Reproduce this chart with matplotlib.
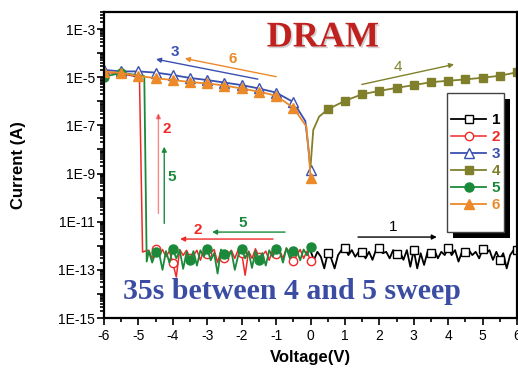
"""
DRAM I-V sweeps (1-6), log current vs voltage
"""

import matplotlib.pyplot as plt
import matplotlib.patheffects as pe
import numpy as np
from matplotlib.patches import Rectangle
from matplotlib.ticker import FixedLocator, FuncFormatter, MultipleLocator

plt.rcParams['font.family'] = ['Liberation Sans', 'DejaVu Sans']

# ---- data (voltage in V, current in A) ----
# sweep 1: 0 -> 6 V, low state, 0.1 V step
v1 = np.linspace(0, 6, 61)
i1 = [6.0e-13, 2.6e-13, 5.6e-13, 3.5e-13, 1.15e-13, 4.9e-13, 3.0e-13, 1.15e-13, 4.1e-13, 6.6e-13,
      8.3e-13, 4.1e-13, 6.6e-13, 3.5e-13, 5.6e-13, 5.4e-13, 3.0e-13, 5.6e-13, 2.6e-13, 6.6e-13,
      7.8e-13, 4.9e-13, 5.6e-13, 3.0e-13, 6.6e-13, 4.4e-13, 5.6e-13, 2.6e-13, 6.6e-13, 1.35e-13,
      6.6e-13, 1.15e-13, 4.9e-13, 1.6e-13, 5.6e-13, 4.9e-13, 6.6e-13, 3.0e-13, 5.6e-13, 4.1e-13,
      8.3e-13, 4.1e-13, 6.6e-13, 2.2e-13, 5.6e-13, 5.6e-13, 6.6e-13, 4.1e-13, 5.6e-13, 3.0e-13,
      7.2e-13, 4.9e-13, 6.6e-13, 2.6e-13, 5.6e-13, 2.6e-13, 4.9e-13, 1.15e-13, 4.1e-13, 6.6e-13,
      6.6e-13]

# sweep 2: 0 -> -6 V, switches on near -4.9 V
v2 = list(np.linspace(0, -4.8, 49)) + [-4.88, -4.97, -5.5, -6.0]
i2 = [2.3e-13, 6.0e-13, 3.0e-13, 7.0e-13, 4.0e-13, 2.3e-13, 5.0e-13, 8.0e-13, 3.0e-13, 6.5e-13,
      4.5e-13, 7.0e-13, 2.5e-13, 6.0e-13, 4.0e-13, 3.5e-13, 7.5e-13, 3.0e-13, 6.0e-13, 6.0e-14,
      5.0e-13, 7.0e-13, 3.0e-13, 6.5e-13, 4.5e-13, 3.0e-13, 6.5e-13, 2.0e-13, 7.0e-13, 5.0e-13,
      4.5e-13, 7.0e-13, 2.5e-13, 6.5e-13, 4.0e-13, 3.0e-13, 6.5e-13, 4.0e-13, 7.0e-13, 5.0e-14,
      1.9e-13, 6.0e-13, 3.5e-13, 7.0e-13, 4.0e-13, 7.0e-13, 3.0e-13, 6.5e-13, 6.0e-13,
      5.5e-13, 1.0e-5, 1.4e-5, 1.6e-5]

# sweep 3: -6 -> 0 V, on state
v3 = [-6.0, -5.5, -5.0, -4.5, -4.0, -3.5, -3.0, -2.5, -2.0, -1.5, -1.0, -0.5, -0.15, -0.06, 0.0]
i3 = [2.0e-5, 1.74e-5, 1.74e-5, 1.55e-5, 1.23e-5, 9.3e-6, 7.6e-6, 6.0e-6, 4.7e-6, 3.4e-6,
      2.3e-6, 9.3e-7, 1.5e-7, 1.1e-8, 1.4e-9]

# sweep 4: 0 -> 6 V, on state
v4 = [0.0, 0.08, 0.25, 0.5, 1.0, 1.5, 2.0, 2.5, 3.0, 3.5, 4.0, 4.5, 5.0, 5.5, 6.0]
i4 = [1.9e-9, 6.5e-8, 2.3e-7, 4.6e-7, 1.05e-6, 1.95e-6, 2.7e-6, 3.6e-6, 4.7e-6, 6.2e-6,
      7.1e-6, 8.1e-6, 9.5e-6, 1.15e-5, 1.6e-5]

# sweep 5: 0 -> -6 V after 35 s, switches on near -4.8 V
v5 = list(np.linspace(0, -4.7, 48)) + [-4.76, -4.83, -5.0, -5.5, -6.0]
i5 = [9.1e-13, 4.0e-13, 7.0e-13, 2.5e-13, 6.5e-13, 6.0e-13, 3.0e-13, 8.0e-13, 2.0e-13, 6.0e-13,
      7.4e-13, 3.5e-13, 6.5e-13, 1.5e-13, 5.0e-13, 2.5e-13, 6.0e-13, 1.2e-13, 5.5e-13, 3.0e-13,
      7.4e-13, 4.0e-13, 1.0e-13, 6.0e-13, 3.0e-13, 4.6e-13, 7.0e-13, 7.0e-14, 5.0e-13, 2.5e-13,
      7.4e-13, 3.5e-13, 6.5e-13, 1.5e-13, 6.0e-13, 2.5e-13, 5.5e-13, 1.1e-13, 6.5e-13, 3.0e-13,
      7.1e-13, 2.0e-13, 6.0e-13, 1.0e-13, 5.0e-13, 5.5e-13, 2.0e-13, 6.0e-13,
      2.2e-13, 1.1e-5, 1.2e-5, 1.5e-5, 1.05e-5]

# sweep 6: -6 -> 0 V, on state
v6 = [-6.0, -5.5, -5.0, -4.5, -4.0, -3.5, -3.0, -2.5, -2.0, -1.5, -1.0, -0.5, -0.12, -0.04, 0.0]
i6 = [1.7e-5, 1.5e-5, 1.12e-5, 9.1e-6, 7.6e-6, 6.3e-6, 5.5e-6, 4.5e-6, 3.4e-6, 2.5e-6,
      1.7e-6, 5.4e-7, 9.0e-8, 5.0e-9, 6.6e-10]

c1, c2, c3 = 'black', '#f02828', '#3a50b0'
c4, c5, c6 = '#80802c', '#1a8a3a', '#ec8a2a'

fig = plt.figure(figsize=(5.18, 3.69), dpi=100)
ax = fig.add_axes([0.2008, 0.1382, 0.7973, 0.8293])

lw = 1.3
ax.plot(v1, i1, color=c1, lw=lw, marker='s', ms=5.5, mfc='white', mec=c1,
        markevery=list(range(5, 61, 5)), label='1')
ax.plot(v2, i2, color=c2, lw=1.1, marker='o', ms=6, mfc='white', mec=c2,
        markevery=list(range(0, 46, 5)), label='2')
ax.plot(v3, i3, color=c3, lw=lw, marker='^', ms=7.5, mfc='white', mec=c3,
        markevery=list(range(0, 12)) + [14], label='3')
ax.plot(v4, i4, color=c4, lw=lw, marker='s', ms=5.5, mfc=c4, mec=c4,
        markevery=list(range(3, 15)), label='4')
ax.plot(v5, i5, color=c5, lw=lw, marker='o', ms=6.5, mfc=c5, mec=c5,
        markevery=list(range(0, 46, 5)) + [51, 52], label='5')
ax.plot(v6, i6, color=c6, lw=lw, marker='^', ms=7.5, mfc=c6, mec=c6,
        markevery=list(range(0, 12)) + [14], label='6')

ax.set_yscale('log')
ax.set_xlim(-6, 6)
ax.set_ylim(1e-15, 5.1e-3)

ax.xaxis.set_major_locator(MultipleLocator(1))
ax.xaxis.set_minor_locator(MultipleLocator(0.5))
ax.yaxis.set_major_locator(FixedLocator([10.0 ** e for e in range(-15, -2)]))
minor_y = [m * 10.0 ** e for e in range(-15, -2) for m in range(2, 10)]
ax.yaxis.set_minor_locator(FixedLocator(minor_y))
ax.yaxis.set_major_formatter(FuncFormatter(
    lambda y, p: '1E%d' % round(np.log10(y)) if round(np.log10(y)) % 2 else ''))
ax.xaxis.set_major_formatter(FuncFormatter(lambda x, p: '%d' % x))

ax.tick_params(which='both', direction='out', top=False, right=False, width=1.2, labelsize=10)
ax.tick_params(which='major', length=5)
ax.tick_params(which='minor', length=3)
ax.tick_params(axis='x', pad=3)
ax.tick_params(axis='y', pad=1.5)
for s in ax.spines.values():
    s.set_linewidth(1.6)

ax.set_xlabel('Voltage(V)', fontsize=12, fontweight='bold')
ax.set_ylabel('Current (A)', fontsize=12, fontweight='bold')
ax.xaxis.set_label_coords(0.5, -0.105)
ax.yaxis.set_label_coords(-0.19, 0.5)

# sweep direction arrows with numbers
def arrow(tail, head, color, alpha=1.0):
    ax.annotate('', xy=head, xytext=tail,
                arrowprops=dict(arrowstyle='-|>', color=color, lw=1.0, alpha=alpha,
                                mutation_scale=7, shrinkA=0, shrinkB=0))

arrow((-1.53, 8.3e-6), (-4.49, 5.6e-5), c3)
ax.text(-3.94, 1.1e-4, '3', color=c3, fontsize=11, fontweight='bold', ha='center', va='center')
arrow((-1.0, 1.05e-5), (-3.65, 6.0e-5), c6)
ax.text(-2.26, 5.5e-5, '6', color=c6, fontsize=11, fontweight='bold', ha='center', va='center')
arrow((1.49, 5.0e-6), (4.17, 3.4e-5), c4)
ax.text(2.53, 2.7e-5, '4', color=c4, fontsize=11, ha='center', va='center')
arrow((-4.42, 2.2e-11), (-4.42, 3.2e-7), c2, alpha=0.55)
ax.text(-4.18, 7.1e-8, '2', color=c2, fontsize=11, fontweight='bold', ha='center', va='center')
arrow((-4.25, 8.5e-12), (-4.25, 1.3e-8), c5)
ax.text(-4.03, 7.4e-10, '5', color=c5, fontsize=11, fontweight='bold', ha='center', va='center')
arrow((-1.09, 1.9e-12), (-3.79, 1.9e-12), c2)
ax.text(-3.27, 4.5e-12, '2', color=c2, fontsize=11, fontweight='bold', ha='center', va='center')
arrow((-0.74, 3.7e-12), (-2.86, 3.7e-12), c5)
ax.text(-1.96, 8.7e-12, '5', color=c5, fontsize=11, fontweight='bold', ha='center', va='center')
arrow((1.38, 2.3e-12), (3.67, 2.3e-12), c1)
ax.text(2.40, 6.0e-12, '1', color=c1, fontsize=11, ha='center', va='center')

ax.text(0.53, 0.915, 'DRAM', transform=ax.transAxes, color='#c0201e', fontsize=26,
        fontweight='bold', family='Liberation Serif', ha='center', va='center',
        path_effects=[pe.withSimplePatchShadow(offset=(1.2, -1.2), shadow_rgbFace='gray', alpha=0.35)])
ax.text(0.455, 0.085, '35s between 4 and 5 sweep', transform=ax.transAxes, color='#3b4ca3',
        fontsize=21.5, fontweight='bold', family='Liberation Serif', ha='center', va='center')

# legend box with hard shadow
bx, by, bw, bh = 0.830, 0.281, 0.139, 0.454
ax.add_patch(Rectangle((bx + 0.0145, by - 0.0196), bw, bh, transform=ax.transAxes,
                       facecolor='black', edgecolor='none', zorder=4.5, clip_on=False))
ax.add_patch(Rectangle((bx, by), bw, bh, transform=ax.transAxes, facecolor='white',
                       edgecolor='#444444', lw=1.0, zorder=4.6, clip_on=False))
leg = ax.legend(loc='center', bbox_to_anchor=(bx + bw / 2, by + bh / 2), frameon=False,
                prop={'weight': 'bold', 'size': 11}, handlelength=2.3, handletextpad=0.35,
                labelspacing=0.2, borderpad=0)
leg.set_zorder(5)
for t, c in zip(leg.get_texts(), [c1, c2, c3, c4, c5, c6]):
    t.set_color(c)

plt.savefig('out.png', dpi=100)
